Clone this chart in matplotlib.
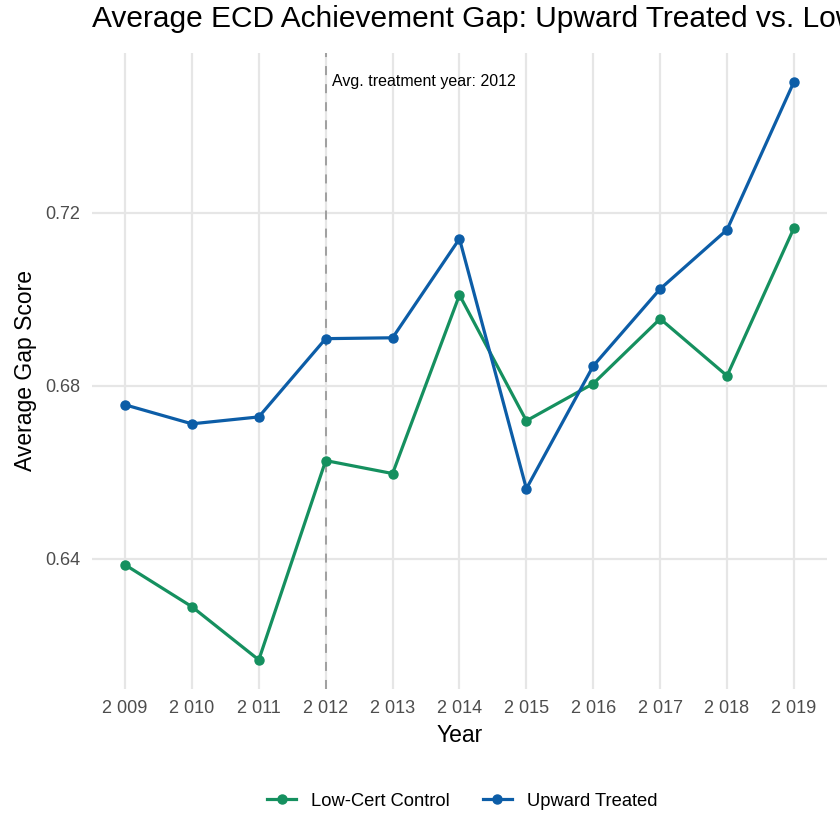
import matplotlib
matplotlib.use("Agg")
import matplotlib.pyplot as plt
from matplotlib.lines import Line2D

plt.rcParams['font.family'] = ['Liberation Sans', 'DejaVu Sans']

years = [2009, 2010, 2011, 2012, 2013, 2014, 2015, 2016, 2017, 2018, 2019]
year_labels = ["2 009", "2 010", "2 011", "2 012", "2 013", "2 014", "2 015", "2 016", "2 017", "2 018", "2 019"]
upward_treated = [0.6756, 0.6712, 0.6728, 0.6909, 0.6911, 0.7140, 0.6562, 0.6846, 0.7024, 0.7161, 0.7503]
low_cert_control = [0.6386, 0.6289, 0.6166, 0.6627, 0.6597, 0.7010, 0.6719, 0.6805, 0.6955, 0.6823, 0.7165]
y_ticks = [0.64, 0.68, 0.72]
y_tick_labels = ["0.64", "0.68", "0.72"]
treat_year = 2012

green = "#15905F"
blue = "#0C5DA7"

fig = plt.figure(figsize=(8.4, 8.4), dpi=100)
ax = fig.add_axes([0.109, 0.180, 0.876, 0.757])

ax.plot(years, low_cert_control, color=green, lw=2.3, marker='o', ms=6.5, zorder=3)
ax.plot(years, upward_treated, color=blue, lw=2.3, marker='o', ms=6.5, zorder=3)

ax.axvline(treat_year, color="#9a9a9a", lw=1.3, linestyle=(0, (5, 5)), zorder=2)
ax.text(treat_year + 0.09, max(upward_treated), "Avg. treatment year: 2012",
        ha='left', va='center', fontsize=11.5, color='black')

ax.set_xlim(2008.5, 2019.5)
lo = min(min(upward_treated), min(low_cert_control))
hi = max(max(upward_treated), max(low_cert_control))
pad = (hi - lo) * 0.05
ax.set_ylim(lo - pad, hi + pad)

ax.set_xticks(years)
ax.set_xticklabels(year_labels)
ax.set_yticks(y_ticks)
ax.set_yticklabels(y_tick_labels)
ax.tick_params(axis='both', length=0, labelsize=13, colors='#4d4d4d', pad=8)
ax.grid(True, color='#e6e6e6', lw=1.6, zorder=0)
ax.set_axisbelow(True)
for s in ax.spines.values():
    s.set_visible(False)

ax.set_xlabel("Year", fontsize=16.5, labelpad=5)
ax.set_ylabel("Average Gap Score", fontsize=16.5, labelpad=6)

fig.text(0.109, 0.977, "Average ECD Achievement Gap: Upward Treated vs. Low-Cert Control",
         ha='left', va='center', fontsize=21.5)

handles = [Line2D([], [], color=green, lw=2.3, marker='o', ms=6.5),
           Line2D([], [], color=blue, lw=2.3, marker='o', ms=6.5)]
fig.legend(handles, ["Low-Cert Control", "Upward Treated"], loc='center',
           bbox_to_anchor=(0.55, 0.046), ncol=2, frameon=False, fontsize=13.2,
           handlelength=1.6, columnspacing=1.8, handletextpad=0.8)

fig.savefig("out.png", dpi=100)
